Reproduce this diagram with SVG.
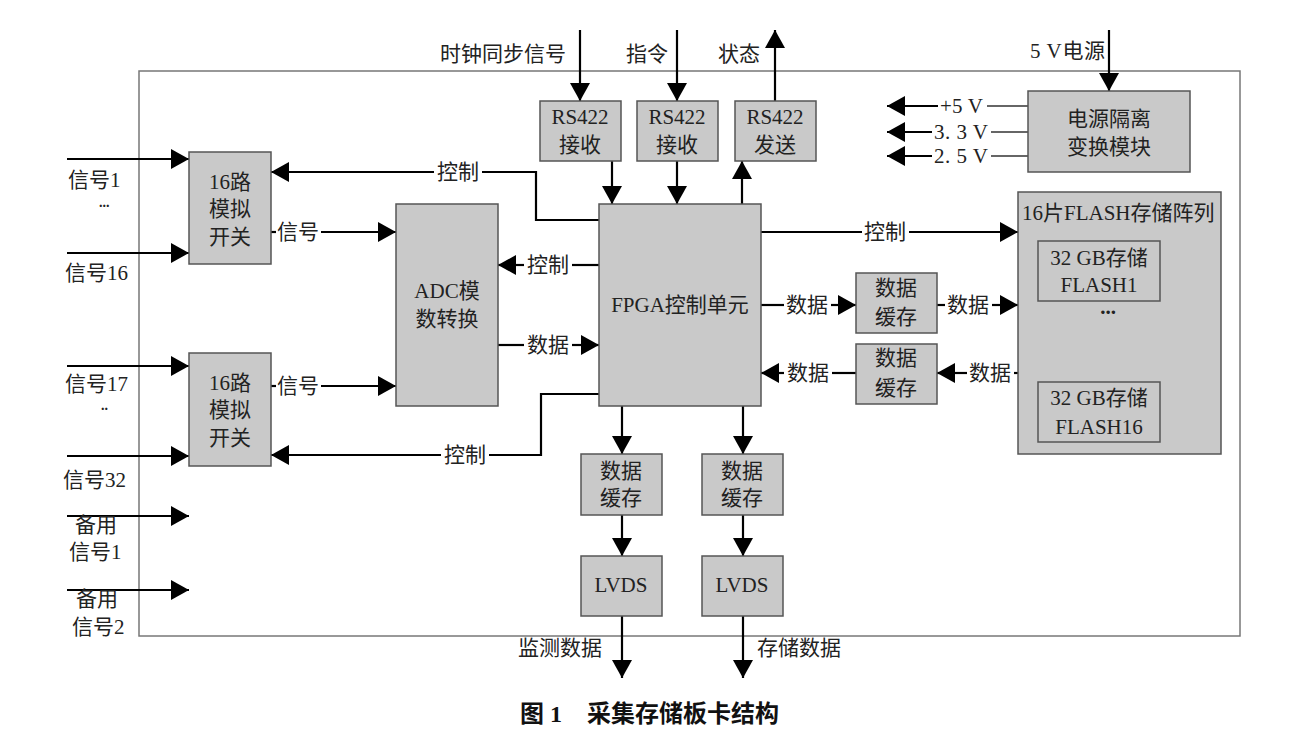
<svg xmlns="http://www.w3.org/2000/svg" width="1300" height="730" viewBox="0 0 1300 730">
<defs>
<marker id="ah" markerUnits="userSpaceOnUse" markerWidth="20" markerHeight="20" refX="18" refY="10" orient="auto">
<path d="M0,0 L18,10 L0,20 Z" fill="#000"/>
</marker>
<style>
text{font-family:"Liberation Serif","Noto Sans CJK SC",serif;font-size:21px;fill:#222}
.c{text-anchor:middle}
.box{fill:#c9c9c9;stroke:#555;stroke-width:1.5}
.frame{fill:none;stroke:#777;stroke-width:1.5}
.ln{fill:none;stroke:#000;stroke-width:2.2}
.arr{fill:none;stroke:#000;stroke-width:2.2;marker-end:url(#ah)}
.thin{fill:none;stroke:#333;stroke-width:1.5}
.cap{font-size:24px;font-weight:bold;fill:#111}
.dots{font-size:14px;font-weight:bold}
</style>
</defs>
<rect width="1300" height="730" fill="#fff"/>
<rect id="board" class="frame" x="139" y="71" width="1101" height="565"/>

<g id="connectors">
<line class="arr" x1="580" y1="30" x2="580" y2="101"/>
<line class="arr" x1="677" y1="30" x2="677" y2="101"/>
<line class="arr" x1="775" y1="101" x2="775" y2="30"/>
<line class="arr" x1="1109" y1="30" x2="1109" y2="91"/>
<line class="arr" x1="612" y1="161" x2="612" y2="204"/>
<line class="arr" x1="677" y1="161" x2="677" y2="204"/>
<line class="arr" x1="742" y1="204" x2="742" y2="161"/>
<line class="thin" x1="1028" y1="106" x2="987" y2="106"/>
<line class="arr" x1="938" y1="106" x2="887" y2="106"/>
<line class="thin" x1="1028" y1="132" x2="991" y2="132"/>
<line class="arr" x1="932" y1="132" x2="887" y2="132"/>
<line class="thin" x1="1028" y1="156" x2="991" y2="156"/>
<line class="arr" x1="932" y1="156" x2="887" y2="156"/>
<line class="arr" x1="67" y1="159" x2="189" y2="159"/>
<line class="arr" x1="67" y1="253" x2="189" y2="253"/>
<line class="arr" x1="67" y1="366" x2="189" y2="366"/>
<line class="arr" x1="67" y1="456" x2="189" y2="456"/>
<line class="arr" x1="67" y1="516" x2="189" y2="516"/>
<line class="arr" x1="67" y1="590" x2="189" y2="590"/>
<line class="ln" x1="271" y1="232" x2="276" y2="232"/>
<line class="arr" x1="321" y1="232" x2="396" y2="232"/>
<line class="ln" x1="271" y1="386" x2="276" y2="386"/>
<line class="arr" x1="321" y1="386" x2="396" y2="386"/>
<polyline class="ln" points="599,220 536,220 536,172 482,172"/>
<line class="arr" x1="434" y1="172" x2="271" y2="172"/>
<polyline class="ln" points="599,394 541,394 541,455 489,455"/>
<line class="arr" x1="441" y1="455" x2="271" y2="455"/>
<line class="ln" x1="599" y1="265" x2="572" y2="265"/>
<line class="arr" x1="524" y1="265" x2="498" y2="265"/>
<line class="ln" x1="498" y1="345" x2="524" y2="345"/>
<line class="arr" x1="572" y1="345" x2="599" y2="345"/>
<line class="ln" x1="761" y1="232" x2="862" y2="232"/>
<line class="arr" x1="909" y1="232" x2="1018" y2="232"/>
<line class="ln" x1="761" y1="305" x2="784" y2="305"/>
<line class="arr" x1="831" y1="305" x2="856" y2="305"/>
<line class="ln" x1="937" y1="305" x2="945" y2="305"/>
<line class="arr" x1="992" y1="305" x2="1018" y2="305"/>
<line class="ln" x1="1018" y1="373" x2="1014" y2="373"/>
<line class="arr" x1="967" y1="373" x2="937" y2="373"/>
<line class="ln" x1="856" y1="373" x2="832" y2="373"/>
<line class="arr" x1="784" y1="373" x2="761" y2="373"/>
<line class="arr" x1="622" y1="406" x2="622" y2="454"/>
<line class="arr" x1="743" y1="406" x2="743" y2="454"/>
<line class="arr" x1="622" y1="515" x2="622" y2="556"/>
<line class="arr" x1="743" y1="515" x2="743" y2="556"/>
<line class="arr" x1="622" y1="616" x2="622" y2="678"/>
<line class="arr" x1="743" y1="616" x2="743" y2="678"/>
</g>

<g id="connector-labels">
<text x="440" y="61">时钟同步信号</text>
<text x="626" y="61">指令</text>
<text x="718" y="61">状态</text>
<text x="1030" y="58" textLength="75" lengthAdjust="spacing">5 V电源</text>
<text x="940" y="113" textLength="43" lengthAdjust="spacing">+5 V</text>
<text x="934" y="139" textLength="54" lengthAdjust="spacing">3. 3 V</text>
<text x="934" y="163" textLength="54" lengthAdjust="spacing">2. 5 V</text>
<text class="c" x="458" y="179">控制</text>
<text class="c" x="465" y="462">控制</text>
<text class="c" x="548" y="272">控制</text>
<text class="c" x="548" y="352">数据</text>
<text class="c" x="298" y="239">信号</text>
<text class="c" x="298" y="393">信号</text>
<text class="c" x="885" y="239">控制</text>
<text class="c" x="807" y="312">数据</text>
<text class="c" x="968" y="312">数据</text>
<text class="c" x="990" y="380">数据</text>
<text class="c" x="808" y="380">数据</text>
<text x="518" y="655">监测数据</text>
<text x="757" y="655">存储数据</text>
<text x="68" y="187">信号1</text>
<text class="dots" x="99" y="207">...</text>
<text x="65" y="391">信号17</text>
<text class="dots" x="101" y="410">..</text>
<text x="65" y="280">信号16</text>
<text x="63" y="487">信号32</text>
<text x="75" y="532">备用</text>
<text x="69" y="559">信号1</text>
<text x="76" y="606">备用</text>
<text x="72" y="634">信号2</text>
</g>

<g id="rs422-rx1"><rect class="box" x="540" y="101" width="81" height="60"/><text class="c" x="580" y="124">RS422</text><text class="c" x="580" y="152">接收</text></g>
<g id="rs422-rx2"><rect class="box" x="637" y="101" width="81" height="60"/><text class="c" x="677" y="124">RS422</text><text class="c" x="677" y="152">接收</text></g>
<g id="rs422-tx"><rect class="box" x="735" y="101" width="81" height="60"/><text class="c" x="775" y="124">RS422</text><text class="c" x="775" y="152">发送</text></g>

<g id="power"><rect class="box" x="1028" y="91" width="162" height="81"/><text class="c" x="1109" y="126">电源隔离</text><text class="c" x="1109" y="154">变换模块</text></g>

<g id="switch1"><rect class="box" x="189" y="152" width="82" height="112"/><text class="c" x="230" y="189">16路</text><text class="c" x="230" y="216">模拟</text><text class="c" x="230" y="244">开关</text></g>
<g id="switch2"><rect class="box" x="189" y="353" width="82" height="113"/><text class="c" x="230" y="390">16路</text><text class="c" x="230" y="417">模拟</text><text class="c" x="230" y="445">开关</text></g>

<g id="adc"><rect class="box" x="396" y="204" width="102" height="202"/><text class="c" x="447" y="298">ADC模</text><text class="c" x="447" y="326">数转换</text></g>

<g id="fpga"><rect class="box" x="599" y="204" width="162" height="202"/><text class="c" x="680" y="312">FPGA控制单元</text></g>

<g id="bufA"><rect class="box" x="856" y="273" width="81" height="60"/><text class="c" x="896" y="295">数据</text><text class="c" x="896" y="324">缓存</text></g>
<g id="bufB"><rect class="box" x="856" y="344" width="81" height="60"/><text class="c" x="896" y="365">数据</text><text class="c" x="896" y="395">缓存</text></g>

<g id="flash-array">
<rect class="box" x="1018" y="192" width="203" height="262"/>
<text x="1022" y="220">16片FLASH存储阵列</text>
<rect class="box" x="1038" y="241" width="122" height="60"/>
<text class="c" x="1099" y="265">32 GB存储</text>
<text class="c" x="1099" y="292">FLASH1</text>
<text class="c" x="1108" y="314" style="font-weight:bold">...</text>
<rect class="box" x="1038" y="382" width="122" height="60"/>
<text class="c" x="1099" y="405">32 GB存储</text>
<text class="c" x="1099" y="434">FLASH16</text>
</g>

<g id="bufC"><rect class="box" x="581" y="454" width="81" height="61"/><text class="c" x="621" y="478">数据</text><text class="c" x="621" y="505">缓存</text></g>
<g id="bufD"><rect class="box" x="702" y="454" width="81" height="61"/><text class="c" x="742" y="478">数据</text><text class="c" x="742" y="505">缓存</text></g>
<g id="lvds1"><rect class="box" x="581" y="556" width="81" height="60"/><text class="c" x="621" y="592">LVDS</text></g>
<g id="lvds2"><rect class="box" x="702" y="556" width="81" height="60"/><text class="c" x="742" y="592">LVDS</text></g>

<g id="caption"><text class="cap" x="520" y="722">图 1</text><text class="cap" x="587" y="722">采集存储板卡结构</text></g>
</svg>
